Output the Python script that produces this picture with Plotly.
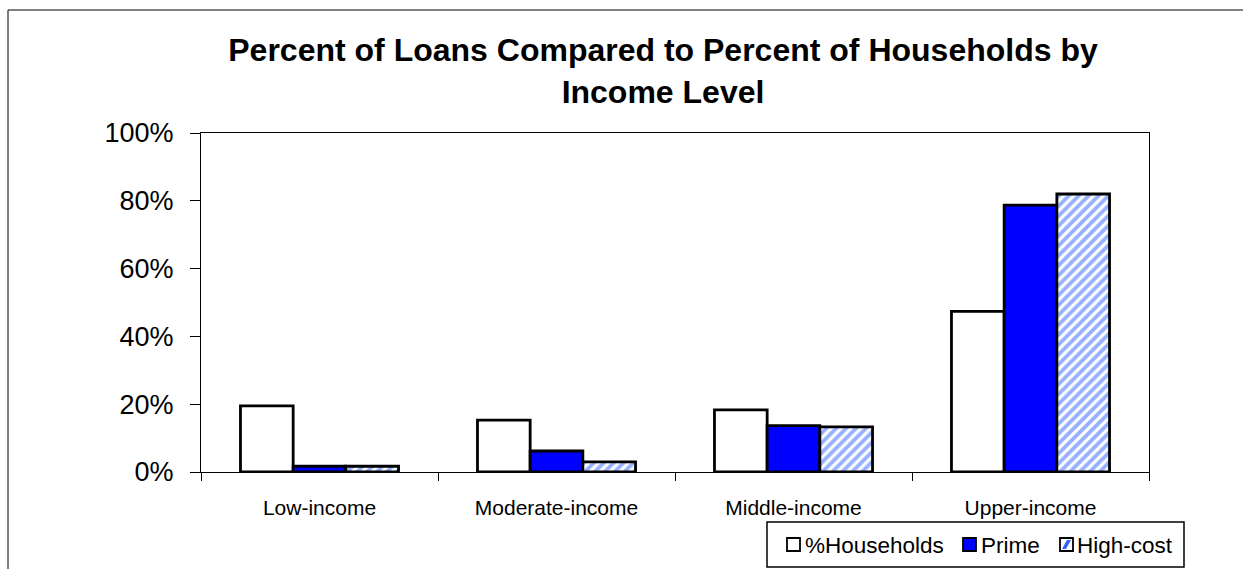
import plotly.graph_objects as go

# Share of households and loans by borrower income level
categories = ["Low-income", "Moderate-income", "Middle-income", "Upper-income"]
households = [0.195, 0.153, 0.183, 0.474]
prime = [0.017, 0.062, 0.137, 0.787]
high_cost = [0.017, 0.030, 0.133, 0.820]

series_names = ["%Households", "Prime", "High-cost"]
y_ticks = [0, 0.2, 0.4, 0.6, 0.8, 1.0]

W, H = 1243, 569
L, R, T, B = 201, 94, 133, 97
plot_w = W - L - R
plot_h = H - T - B

BLUE = "#0000FF"
HATCH = "#2F62FF"


def px_x(px):
    return (px - L) / plot_w


def px_y(py):
    return (H - B - py) / plot_h


outline = dict(color="black", width=2.8)

fig = go.Figure()
fig.add_trace(go.Bar(
    name=series_names[0], x=categories, y=households,
    marker=dict(color="white", line=outline),
))
fig.add_trace(go.Bar(
    name=series_names[1], x=categories, y=prime,
    marker=dict(color=BLUE, line=outline),
))
fig.add_trace(go.Bar(
    name=series_names[2], x=categories, y=high_cost,
    marker=dict(
        color="white", line=outline,
        pattern=dict(shape="/", fgcolor=HATCH, bgcolor="white",
                     size=7, solidity=0.55),
    ),
))

shapes = []
annotations = []

# outer chart frame
shapes.append(dict(
    type="rect", xref="paper", yref="paper",
    x0=px_x(8), x1=px_x(1260), y0=px_y(590), y1=px_y(10),
    line=dict(color="black", width=1), fillcolor="rgba(0,0,0,0)", layer="below",
))

# legend box with swatches
shapes.append(dict(
    type="rect", xref="paper", yref="paper",
    x0=px_x(767), x1=px_x(1184), y0=px_y(567), y1=px_y(522),
    line=dict(color="black", width=1.5), fillcolor="white",
))
swatch_x = [787, 963, 1060]
text_x = [803, 979, 1075]
sw_top, sw_bot = 538, 551
swatch_fill = ["white", BLUE, "white"]
for sx, fill in zip(swatch_x, swatch_fill):
    shapes.append(dict(
        type="rect", xref="paper", yref="paper",
        x0=px_x(sx), x1=px_x(sx + 13), y0=px_y(sw_bot), y1=px_y(sw_top),
        line=dict(color="black", width=1.8), fillcolor=fill,
    ))
# diagonal hatch inside the last swatch
hx = swatch_x[2]
band = [(hx + 2, sw_bot - 2), (hx + 6, sw_bot - 2), (hx + 11, sw_top + 2), (hx + 7, sw_top + 2)]
path = "M " + " L ".join(f"{px_x(a)},{px_y(b)}" for a, b in band) + " Z"
shapes.append(dict(
    type="path", xref="paper", yref="paper", path=path,
    line=dict(width=0), fillcolor=HATCH,
))
for tx, name in zip(text_x, series_names):
    annotations.append(dict(
        text=name, xref="paper", yref="paper",
        x=px_x(tx), y=px_y(545), xanchor="left", yanchor="middle",
        showarrow=False, font=dict(size=22.5, color="black"),
    ))

fig.update_layout(
    width=W, height=H,
    margin=dict(l=L, r=R, t=T, b=B, pad=0),
    paper_bgcolor="white", plot_bgcolor="white",
    font=dict(family="Liberation Sans, Arial, sans-serif", color="black"),
    title=dict(
        text="<b>Percent of Loans Compared to Percent of Households by<br>Income Level</b>",
        font=dict(size=32, color="black"),
        x=px_x(663), xref="paper", xanchor="center",
        y=1 - 61 / H, yref="container", yanchor="top",
        automargin=False,
    ),
    barmode="group", bargap=0.333, bargroupgap=0,
    showlegend=False,
    shapes=shapes,
    annotations=annotations,
    xaxis=dict(
        showline=True, linecolor="black", linewidth=1, mirror=True,
        ticks="outside", tickson="boundaries", ticklen=8, tickcolor="black",
        tickfont=dict(size=21), ticklabelstandoff=17,
        showgrid=False, automargin=False,
    ),
    yaxis=dict(
        range=[0, 1], tickvals=y_ticks, tickformat=".0%",
        showline=True, linecolor="black", linewidth=1, mirror=True,
        ticks="outside", ticklen=10, tickcolor="black",
        tickfont=dict(size=27), ticklabelstandoff=11,
        showgrid=False, zeroline=False, automargin=False,
    ),
)

fig.write_html("out.html")
